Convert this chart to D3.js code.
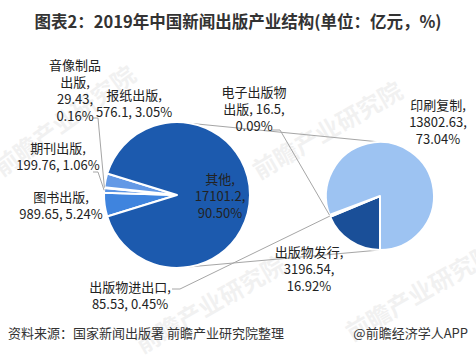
<!DOCTYPE html>
<html lang="zh">
<head>
<meta charset="UTF-8">
<title>2019年中国新闻出版产业结构</title>
<script src="https://cdn.jsdelivr.net/npm/d3@7"></script>
<style>
  body { margin: 0; background: #fff; }
  svg { display: block; font-family: "Noto Sans CJK SC", "Noto Sans", sans-serif; }
</style>
</head>
<body>
<svg id="chart" width="476" height="362"></svg>
<script>
// main pie
const mainNames = ["图书出版", "期刊出版", "音像制品出版", "报纸出版", "其他"];
const mainValues = [989.65, 199.76, 29.43, 576.1, 17101.2];
const mainPcts = [5.24, 1.06, 0.16, 3.05, 90.50];
// second pie ("其他" split)
const subNames = ["出版物发行", "出版物进出口", "电子出版物出版", "印刷复制"];
const subValues = [3196.54, 85.53, 16.5, 13802.63];
const subPcts = [16.92, 0.45, 0.09, 73.04];

const mainColors = ["#3f84de", "#5b94e3", "#4d8be0", "#6399e6", "#1c5aae"];
const subColors = ["#1a4f98", "#2e6cc4", "#5b94e3", "#9dc3f2"];

const svg = d3.select("#chart");
const W = 476, H = 362;

// title
svg.append("text")
  .attr("x", W / 2).attr("y", 28)
  .attr("text-anchor", "middle")
  .attr("font-size", 16.5).attr("font-weight", "bold")
  .attr("fill", "#333")
  .text("图表2：2019年中国新闻出版产业结构(单位：亿元，%)");

// watermarks
const wm = [[70, 128, -36], [332, 138, -30], [215, 312, -30], [425, 300, -30]];
wm.forEach(([x, y, a]) => {
  svg.append("text").attr("transform", `translate(${x},${y}) rotate(${a})`)
    .attr("text-anchor", "middle").attr("font-size", 24).attr("font-weight", "bold")
    .attr("fill", "#000").attr("opacity", 0.05).text("前瞻产业研究院");
});

const main = mainNames.map((n, i) => ({ name: n, value: mainValues[i], pct: mainPcts[i], color: mainColors[i] }));
const sub = subNames.map((n, i) => ({ name: n, value: subValues[i], pct: subPcts[i], color: subColors[i] }));

const c1 = { x: 177, y: 195, r: 73 };
const c2 = { x: 380, y: 196, r: 54 };

// "其他" faces the second pie
const smallShare = d3.sum(main.slice(0, 4), d => d.value) / d3.sum(main, d => d.value);
const start1 = 1.5 * Math.PI - smallShare * Math.PI;
const pie1 = d3.pie().sort(null).value(d => d.value).startAngle(start1).endAngle(start1 + 2 * Math.PI);
const pie2 = d3.pie().sort(null).value(d => d.value).startAngle(Math.PI).endAngle(3 * Math.PI);

const arcs1 = pie1(main);
const arcs2 = pie2(sub);

// connector lines
const conn = svg.append("g").attr("stroke", "#a6a6a6").attr("stroke-width", 1).attr("fill", "none");
conn.append("line").attr("x1", c1.x).attr("y1", c1.y - c1.r).attr("x2", c2.x).attr("y2", c2.y - c2.r);
conn.append("line").attr("x1", c1.x).attr("y1", c1.y + c1.r).attr("x2", c2.x).attr("y2", c2.y + c2.r);

const arc1 = d3.arc().innerRadius(0).outerRadius(c1.r);
const arc2 = d3.arc().innerRadius(0).outerRadius(c2.r);

svg.append("g").attr("transform", `translate(${c1.x},${c1.y})`)
  .selectAll("path").data(arcs1).join("path")
  .attr("d", arc1).attr("fill", d => d.data.color)
  .attr("stroke", "#fff").attr("stroke-width", 2).attr("stroke-linejoin", "round");

svg.append("g").attr("transform", `translate(${c2.x},${c2.y})`)
  .selectAll("path").data(arcs2).join("path")
  .attr("d", arc2).attr("fill", d => d.data.color)
  .attr("stroke", "#fff").attr("stroke-width", 2).attr("stroke-linejoin", "round");

// labels
const rim = (c, a) => {
  const m = (a.startAngle + a.endAngle) / 2;
  return [c.x + c.r * Math.sin(m), c.y - c.r * Math.cos(m)];
};
const v = d => String(d.value);
const p = d => d.pct.toFixed(2) + "%";

const labels = [
  { set: main, i: 2, x: 75, y: 70, lines: d => ["音像制品", "出版,", v(d) + ",", p(d)], lead: [[93, 118], [98, 118]] },
  { set: main, i: 3, x: 134, y: 100, lines: d => [d.name + ",", v(d) + ", " + p(d)] },
  { set: main, i: 1, x: 58, y: 153, lines: d => [d.name + ",", v(d) + ", " + p(d)], lead: [[93, 172], [98, 172]] },
  { set: main, i: 0, x: 61, y: 202, lines: d => [d.name + ",", v(d) + ", " + p(d)] },
  { set: main, i: 4, x: 220, y: 184, lines: d => [d.name + ",", v(d) + ",", p(d)] },
  { set: sub, i: 2, x: 254, y: 97, lines: d => ["电子出版物", "出版, " + v(d) + ",", p(d)], lead: [[272, 130], [280, 130]] },
  { set: sub, i: 3, x: 438, y: 110, lines: d => [d.name + ",", v(d) + ",", p(d)] },
  { set: sub, i: 0, x: 309, y: 257, lines: d => [d.name + ",", v(d) + ",", p(d)] },
  { set: sub, i: 1, x: 130, y: 292, lines: d => [d.name + ",", v(d) + ", " + p(d)], lead: [[172, 289], [180, 289]] }
];

const leadG = svg.append("g").attr("stroke", "#a6a6a6").attr("stroke-width", 1).attr("fill", "none");
const labG = svg.append("g").attr("font-size", 13).attr("fill", "#222").attr("text-anchor", "middle");

labels.forEach(l => {
  const d = l.set[l.i];
  const t = labG.append("text").attr("x", l.x).attr("y", l.y);
  l.lines(d).forEach((s, k) => t.append("tspan").attr("x", l.x).attr("dy", k ? 17 : 0).text(s));
  if (l.lead) {
    const end = l.set === main ? rim(c1, arcs1[l.i]) : rim(c2, arcs2[l.i]);
    leadG.append("path").attr("d", d3.line()([...l.lead, end]));
  }
});

// footer
svg.append("text").attr("x", 8).attr("y", 338).attr("font-size", 13).attr("fill", "#333")
  .text("资料来源：国家新闻出版署 前瞻产业研究院整理");
svg.append("text").attr("x", 468).attr("y", 338).attr("font-size", 13).attr("fill", "#333")
  .attr("text-anchor", "end").text("@前瞻经济学人APP");
</script>
</body>
</html>
